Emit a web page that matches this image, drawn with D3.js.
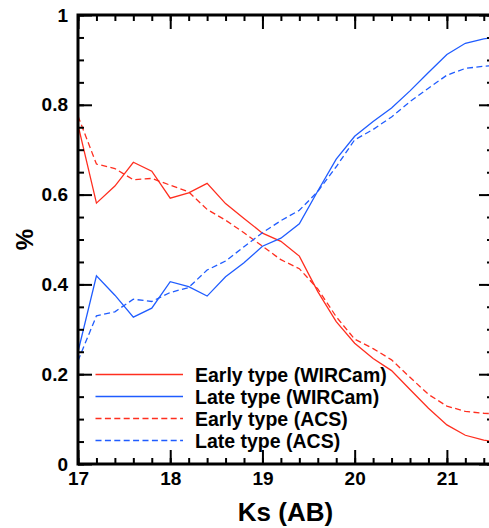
<!DOCTYPE html>
<html>
<head>
<meta charset="utf-8">
<script src="https://cdn.jsdelivr.net/npm/d3@7"></script>
<style>
  html, body { margin: 0; padding: 0; background: #fff; }
  svg { display: block; font-family: "Liberation Sans", Arial, Helvetica, sans-serif; font-weight: bold; }
</style>
</head>
<body>
<svg id="chart" width="489" height="528"></svg>
<script>
// Ks magnitude bins (AB)
const ks = [17.0, 17.2, 17.4, 17.6, 17.8, 18.0, 18.2, 18.4, 18.6, 18.8, 19.0, 19.2,
            19.4, 19.6, 19.8, 20.0, 20.2, 20.4, 20.6, 20.8, 21.0, 21.2, 21.4, 21.5];

// Fraction of early / late type galaxies per bin
const earlyWIRCam = [0.755, 0.581, 0.619, 0.672, 0.652, 0.592, 0.604, 0.625, 0.580, 0.547, 0.514, 0.496,
                     0.463, 0.384, 0.317, 0.269, 0.235, 0.208, 0.166, 0.124, 0.087, 0.064, 0.053, 0.050];
const lateWIRCam  = [0.250, 0.419, 0.376, 0.327, 0.347, 0.406, 0.395, 0.374, 0.417, 0.448, 0.485, 0.503,
                     0.535, 0.608, 0.679, 0.730, 0.763, 0.793, 0.831, 0.872, 0.912, 0.937, 0.947, 0.950];
const earlyACS    = [0.775, 0.668, 0.658, 0.633, 0.636, 0.621, 0.606, 0.567, 0.543, 0.515, 0.485, 0.455,
                     0.435, 0.390, 0.328, 0.278, 0.257, 0.232, 0.193, 0.155, 0.129, 0.117, 0.113, 0.112];
const lateACS     = [0.230, 0.330, 0.339, 0.367, 0.362, 0.382, 0.393, 0.432, 0.452, 0.484, 0.515, 0.542,
                     0.565, 0.607, 0.662, 0.722, 0.745, 0.773, 0.807, 0.837, 0.866, 0.881, 0.886, 0.887];

const xMajorTicks = [17, 18, 19, 20, 21];
const yMajorTicks = [0, 0.2, 0.4, 0.6, 0.8, 1];
const yTickLabels = ["0", "0.2", "0.4", "0.6", "0.8", "1"];

const seriesNames = ["Early type (WIRCam)", "Late type (WIRCam)", "Early type (ACS)", "Late type (ACS)"];
const seriesValues = [earlyWIRCam, lateWIRCam, earlyACS, lateACS];
const seriesColors = ["#ff2e1f", "#1f5cff", "#ff2e1f", "#1f5cff"];
const seriesDashed = [false, false, true, true];

const svg = d3.select("#chart");
const padL = 78, padR = 493, padT = 15, padB = 464;

const x = d3.scaleLinear().domain([17, 21.5]).range([padL, padR]);
const y = d3.scaleLinear().domain([0, 1]).range([padB, padT]);

svg.append("defs").append("clipPath").attr("id", "plotClip")
  .append("rect").attr("x", padL).attr("y", padT).attr("width", padR - padL).attr("height", padB - padT);

// Series lines
const line = d3.line().x((d, i) => x(ks[i])).y(d => y(d));
const plot = svg.append("g").attr("clip-path", "url(#plotClip)");
seriesValues.forEach((vals, k) => {
  plot.append("path")
    .datum(vals)
    .attr("d", line)
    .attr("fill", "none")
    .attr("stroke", seriesColors[k])
    .attr("stroke-width", 1.3)
    .attr("stroke-dasharray", seriesDashed[k] ? "6,3.4" : null);
});

// Axes: inward ticks on all four sides
const xMinor = d3.range(17, 21.5001, 0.2).map(v => +v.toFixed(1));
const yMinor = d3.range(0, 1.0001, 0.05).map(v => +v.toFixed(2));

function styleAxis(g) {
  g.selectAll(".domain").remove();
  g.selectAll(".tick line").attr("stroke", "#000").attr("stroke-width", 2);
  g.selectAll("text").attr("fill", "#000").style("font-size", "19px").style("font-weight", "bold")
    .style("font-family", "'Liberation Sans', Arial, sans-serif");
}

// bottom
svg.append("g").attr("transform", `translate(0,${padB})`)
  .call(d3.axisBottom(x).tickValues(xMinor).tickFormat("").tickSize(-6).tickSizeOuter(0)).call(styleAxis);
svg.append("g").attr("transform", `translate(0,${padB})`)
  .call(d3.axisBottom(x).tickValues(xMajorTicks).tickFormat(d3.format("d")).tickSize(-14).tickSizeOuter(0).tickPadding(8))
  .call(styleAxis);
// top
svg.append("g").attr("transform", `translate(0,${padT})`)
  .call(d3.axisTop(x).tickValues(xMinor).tickFormat("").tickSize(-6).tickSizeOuter(0)).call(styleAxis);
svg.append("g").attr("transform", `translate(0,${padT})`)
  .call(d3.axisTop(x).tickValues(xMajorTicks).tickFormat("").tickSize(-14).tickSizeOuter(0)).call(styleAxis);
// left
svg.append("g").attr("transform", `translate(${padL},0)`)
  .call(d3.axisLeft(y).tickValues(yMinor).tickFormat("").tickSize(-6).tickSizeOuter(0)).call(styleAxis);
svg.append("g").attr("transform", `translate(${padL},0)`)
  .call(d3.axisLeft(y).tickValues(yMajorTicks).tickFormat((d, i) => yTickLabels[i]).tickSize(-14).tickSizeOuter(0).tickPadding(10))
  .call(styleAxis);
// right
svg.append("g").attr("transform", `translate(${padR},0)`)
  .call(d3.axisRight(y).tickValues(yMinor).tickFormat("").tickSize(-6).tickSizeOuter(0)).call(styleAxis);
svg.append("g").attr("transform", `translate(${padR},0)`)
  .call(d3.axisRight(y).tickValues(yMajorTicks).tickFormat("").tickSize(-14).tickSizeOuter(0)).call(styleAxis);

// Frame
svg.append("rect").attr("x", padL).attr("y", padT).attr("width", padR - padL).attr("height", padB - padT)
  .attr("fill", "none").attr("stroke", "#000").attr("stroke-width", 3);

// Axis titles
svg.append("text").attr("x", (padL + padR) / 2).attr("y", 521).attr("text-anchor", "middle")
  .style("font-size", "26px").text("Ks (AB)");
svg.append("text").attr("transform", `translate(33,${(padT + padB) / 2}) rotate(-90)`)
  .attr("text-anchor", "middle").style("font-size", "24px").text("%");

// Legend
const legend = svg.append("g");
seriesNames.forEach((name, k) => {
  const ly = 374.5 + k * 22;
  legend.append("line").attr("x1", 95.5).attr("x2", 183).attr("y1", ly).attr("y2", ly)
    .attr("stroke", seriesColors[k]).attr("stroke-width", 1.3)
    .attr("stroke-dasharray", seriesDashed[k] ? "6,3.4" : null);
  legend.append("text").attr("x", 195).attr("y", ly + 7).style("font-size", "19.5px").text(name);
});
</script>
</body>
</html>
